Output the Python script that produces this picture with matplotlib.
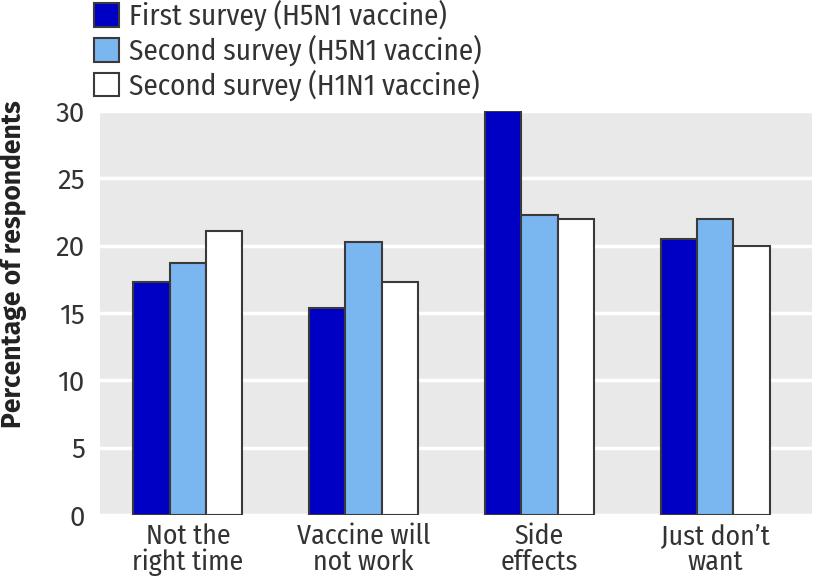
import matplotlib
matplotlib.use("Agg")
import matplotlib.pyplot as plt
import numpy as np

categories = ["Not the\nright time", "Vaccine will\nnot work", "Side\neffects", "Just don\u2019t\nwant"]
series_names = [
    "First survey (H5N1 vaccine)",
    "Second survey (H5N1 vaccine)",
    "Second survey (H1N1 vaccine)",
]
first_h5n1 = [17.3, 15.4, 30.0, 20.5]
second_h5n1 = [18.7, 20.3, 22.3, 22.0]
second_h1n1 = [21.1, 17.3, 22.0, 20.0]
yticks = [0, 5, 10, 15, 20, 25, 30]

colors = ["#0000c4", "#7ab6f0", "#ffffff"]
font = ["Fira Sans Condensed", "DejaVu Sans"]
text_color = "#333333"

fig = plt.figure(figsize=(8.16, 5.8), dpi=100)
ax = fig.add_axes([0.1225, 0.112, 0.8725, 0.6966])
ax.set_facecolor("#e9e9e9")

x = np.arange(len(categories))
w = 0.207
for i, (vals, c, name) in enumerate(zip([first_h5n1, second_h5n1, second_h1n1], colors, series_names)):
    ax.bar(x + (i - 1) * w, vals, width=w, color=c, edgecolor="#3a3a3a",
           linewidth=1.5, label=name, zorder=3)

ax.set_ylim(0, 30)
ax.set_xlim(-0.5, 3.55)
ax.set_yticks(yticks)
ax.set_yticklabels([str(t) for t in yticks], family=["Fira Sans", "DejaVu Sans"],
                   fontsize=20, color=text_color)
ax.set_xticks(x)
ax.set_xticklabels(categories, family=font, fontsize=20, color=text_color, linespacing=0.95)
ax.tick_params(axis="y", length=0, pad=11)
ax.tick_params(axis="x", length=0, pad=6)
ax.yaxis.grid(True, color="white", linewidth=2.5, zorder=1)
ax.set_axisbelow(True)
for s in ax.spines.values():
    s.set_visible(False)

# y label sits high, its top level with the top of the axes
fig.text(14 / 816, 1 - 100 / 580, "Percentage of respondents", rotation=90,
         ha="center", va="top", fontsize=19, fontweight="bold",
         family=["Fira Sans", "DejaVu Sans"], color="#222222")

fig.legend(loc="upper left", bbox_to_anchor=(0.083, 1.045), frameon=False,
           prop={"family": font, "size": 21}, handlelength=0.85, handleheight=0.85,
           handletextpad=0.35, labelspacing=0.12, labelcolor=text_color)

fig.savefig("out.png", dpi=100)
